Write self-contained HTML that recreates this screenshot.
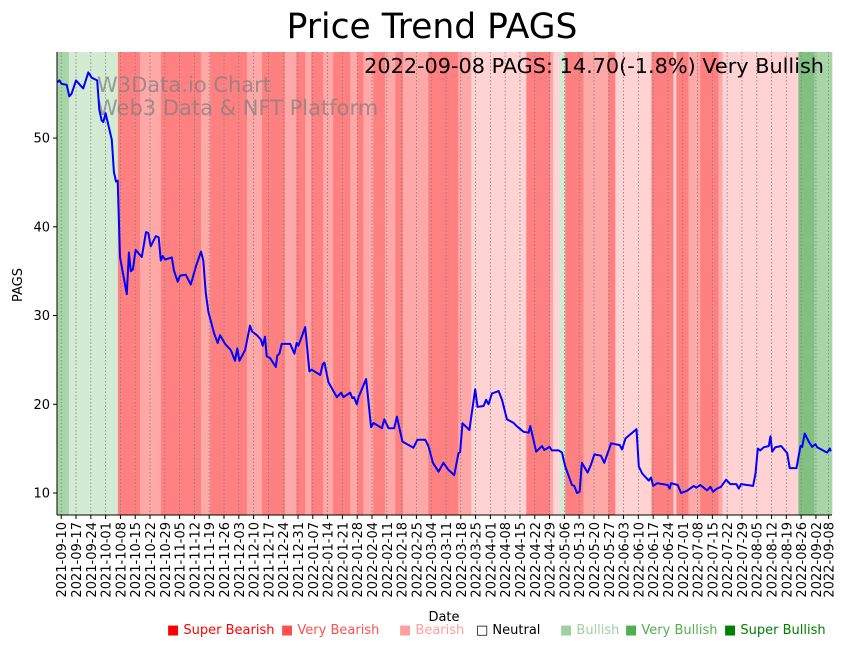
<!DOCTYPE html>
<html><head><meta charset="utf-8"><style>
body{margin:0;background:#fff;width:851px;height:646px;overflow:hidden;font-family:"DejaVu Sans","Liberation Sans",sans-serif}
svg text{font-family:"DejaVu Sans","Liberation Sans",sans-serif}
</style></head><body>
<svg id="chart" width="851" height="646" viewBox="0 0 851 646" xmlns="http://www.w3.org/2000/svg">
<g id="bands"></g>
<g id="grid"></g>
<text x="97" y="92" font-size="21" fill="#808080" fill-opacity="0.75">W3Data.io Chart</text>
<text x="97" y="115" font-size="21" fill="#808080" fill-opacity="0.75">Web3 Data &amp; NFT Platform</text>
<path id="line" fill="none" stroke="#0000ff" stroke-width="2" stroke-linejoin="round"></path>
<g id="axes"></g>
<text x="432" y="38" font-size="34.5" text-anchor="middle">Price Trend PAGS</text>
<text x="824" y="73" font-size="20.8" text-anchor="end">2022-09-08 PAGS: 14.70(-1.8%) Very Bullish</text>
<text x="22" y="285" font-size="13" text-anchor="middle" transform="rotate(-90 22 285)">PAGS</text>
<text x="444" y="621" font-size="13" text-anchor="middle">Date</text>
<g font-size="13">
<text x="167" y="634" fill="#ff0000">■ Super Bearish</text>
<text x="281" y="634" fill="#ff5050">■ Very Bearish</text>
<text x="399" y="634" fill="#ffa0a0">■ Bearish</text>
<text x="476" y="634" fill="#000000">□ Neutral</text>
<text x="560" y="634" fill="#a0d0a0">■ Bullish</text>
<text x="625" y="634" fill="#50b050">■ Very Bullish</text>
<text x="724" y="634" fill="#008000">■ Super Bullish</text>
</g>
</svg>
<script>
const days=[-1.9,-0.9,0.2,2.6,3.8,4.9,7.0,10.4,12.8,14.4,17.0,18.0,19.1,19.9,21.0,23.9,24.9,25.9,26.7,27.8,31.0,32.0,32.9,33.9,35.2,38.1,40.1,41.2,42.3,44.8,46.1,47.1,48.0,49.1,52.3,53.3,55.1,56.2,58.9,61.3,63.8,66.1,67.2,68.4,69.6,72.3,74.0,75.1,77.5,80.2,82.2,83.3,84.3,87.0,89.3,90.3,92.5,94.4,95.3,96.4,97.2,98.8,101.5,102.2,103.2,104.3,108.3,110.3,111.4,112.2,115.4,117.4,118.5,122.5,123.7,124.5,126.4,130.4,132.4,133.5,136.7,137.7,138.5,139.8,140.6,144.2,146.6,147.7,151.7,152.8,154.8,157.5,158.8,161.4,166.6,168.5,172.2,173.7,175.8,178.5,180.8,183.2,185.9,187.9,188.7,189.8,193.1,195.8,196.9,199.8,201.0,202.1,203.7,206.9,208.5,210.8,214.0,215.6,218.7,221.1,221.9,224.7,227.4,228.5,231.0,232.1,235.3,236.9,238.4,241.6,242.7,244.0,245.2,246.3,249.0,250.6,252.2,255.3,256.9,260.1,264.2,265.3,266.9,269.2,272.1,273.2,274.8,277.9,279.0,280.0,281.9,286.9,287.8,288.5,291.6,293.2,296.0,299.2,300.4,302.3,305.5,307.1,308.3,310.2,312.1,314.5,316.5,319.4,320.5,321.6,327.3,328.4,329.5,330.7,332.3,334.7,335.5,336.3,337.8,340.5,343.4,344.6,347.8,349.7,350.5,351.7,353.6,355.2,356.8,357.6,362.3,363.6,364.0];
const prices=[56.3,56.5,56.1,56.0,54.7,55.0,56.5,55.6,57.4,56.8,56.5,53.2,52.0,51.8,52.8,49.8,46.2,45.1,45.2,36.6,32.4,37.1,35.0,35.2,37.4,36.6,39.4,39.3,37.8,38.95,38.8,36.2,36.7,36.3,36.55,35.1,33.8,34.5,34.6,33.5,35.6,37.2,36.2,32.5,30.4,28.0,26.9,27.8,26.8,26.1,24.9,26.3,24.9,26.1,28.85,28.2,27.8,27.3,26.6,27.6,25.4,25.2,24.2,25.5,25.7,26.8,26.8,25.7,26.9,26.6,28.7,23.7,23.9,23.3,24.5,24.7,22.5,20.8,21.3,20.8,21.3,20.7,20.8,20.0,20.8,22.85,17.4,17.9,17.3,18.3,17.3,17.3,18.6,15.8,15.1,16.0,16.0,15.3,13.4,12.4,13.4,12.6,12.0,14.5,14.6,17.85,17.1,21.7,19.7,19.8,20.5,20.0,21.2,21.5,20.5,18.3,17.9,17.5,16.9,16.8,17.55,14.65,15.3,14.85,15.2,14.8,14.8,14.55,13.0,10.9,10.8,10.0,10.15,13.4,12.3,13.2,14.35,14.2,13.4,15.6,15.4,14.9,16.15,16.6,17.2,13.0,12.2,11.4,11.75,10.8,11.1,10.9,10.5,11.1,10.9,10.0,10.25,10.8,10.6,10.9,10.3,10.7,10.15,10.5,10.7,11.5,11.0,11.0,10.5,11.0,10.8,12.2,15.0,14.8,15.15,15.3,16.4,14.65,15.15,15.3,14.5,12.8,12.8,15.3,15.2,16.7,15.8,15.2,15.5,15.15,14.55,15.0,14.7];
const bandStarts=[-2,3.6,26.8,37.3,47.2,66.1,70.4,87.9,95.0,105.9,111.1,115.4,118.2,123.9,128.6,136.7,140.0,142.9,147.6,153.2,158.0,161.7,168.4,173.6,187.8,194.0,220.0,231.3,232.7,235.6,238.4,247.0,258.8,262.1,279.2,289.6,291.0,296.7,302.3,310.9,312.8,348.7,356.3];
const bandLevels=[2,1,-3,-2,-3,-2,-3,-2,-3,-2,-3,-2,-3,-2,-3,-2,-3,-2,-3,-2,-3,-2,-2,-3,-2,-1,-3,-2,-1,1,-3,-2,-3,-1,-3,-1,-3,-2,-3,-2,-1,3,2];
const yTicks=[10,20,30,40,50];
const tickDays=[0,7,14,21,28,35,42,49,56,63,70,77,84,91,98,105,112,119,126,133,140,147,154,161,168,175,182,189,196,203,210,217,224,231,238,245,252,259,266,273,280,287,294,301,308,315,322,329,336,343,350,357,363];
const startDate=new Date(Date.UTC(2021,8,10));
const L=57,R=832,T=52,B=515,D0=-2,D1=364.6,V0=7.52,V1=59.7;
const X=d=>L+(d-D0)/(D1-D0)*(R-L);
const Y=v=>B-(v-V0)/(V1-V0)*(B-T);
const NS='http://www.w3.org/2000/svg';
function mk(tag,attrs,parent){const e=document.createElementNS(NS,tag);for(const k in attrs)e.setAttribute(k,attrs[k]);parent.appendChild(e);return e;}
const colors={'-3':'#ff8080','-2':'#ffa8a8','-1':'#ffd3d3','1':'#d3ebd3','2':'#a8d5a8','3':'#80c080'};
const bands=document.getElementById('bands');
for(let i=0;i<bandStarts.length;i++){
  const s=bandStarts[i],e=i+1<bandStarts.length?bandStarts[i+1]:D1;
  const r=mk('rect',{x:X(s),y:T,width:X(e)-X(s)+0.3,height:B-T,fill:colors[bandLevels[i]]},bands);
  
  
}
const grid=document.getElementById('grid'),axes=document.getElementById('axes');
for(const d of tickDays){
  const x=X(d);
  const g=mk('line',{x1:x,x2:x,y1:T,y2:B,stroke:'#808080','stroke-width':0.8,'stroke-dasharray':'1.5,2'},grid);
  
  
  mk('line',{x1:x,x2:x,y1:B,y2:B+4,stroke:'#000'},axes);
  const dt=new Date(startDate.getTime()+d*86400000);
  const lbl=dt.toISOString().slice(0,10);
  const t=mk('text',{x:x+5,y:B+7,'font-size':13,'text-anchor':'end',transform:`rotate(-90 ${x+5} ${B+7})`},axes);
  t.textContent=lbl;
  
  
}
for(const v of yTicks){
  const y=Y(v);
  mk('line',{x1:L-4,x2:L,y1:y,y2:y,stroke:'#000'},axes);
  const t=mk('text',{x:L-7,y:y+4.5,'font-size':13,'text-anchor':'end'},axes);
  t.textContent=v;
  
  
}
mk('line',{x1:L,x2:L,y1:T,y2:B,stroke:'#000','stroke-width':1},axes);
mk('line',{x1:L,x2:R,y1:B,y2:B,stroke:'#000','stroke-width':1},axes);
document.getElementById('line').setAttribute('d',days.map((d,i)=>(i?'L':'M')+X(d).toFixed(1)+' '+Y(prices[i]).toFixed(1)).join(' '));
</script>
</body></html>
